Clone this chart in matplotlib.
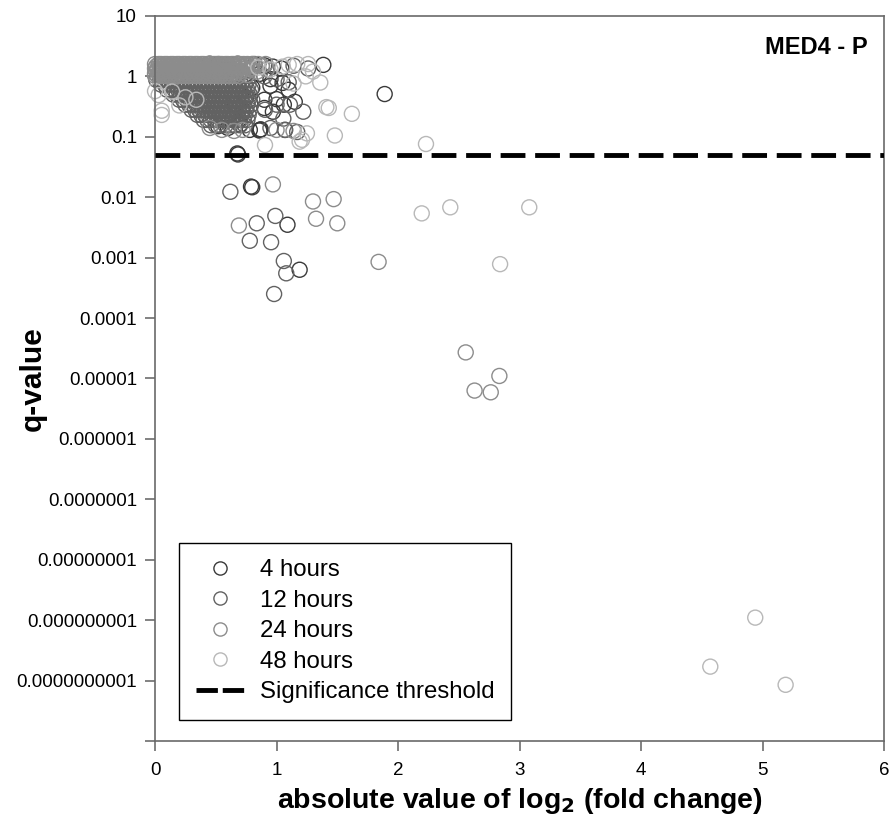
import matplotlib
matplotlib.use('Agg')
import matplotlib.pyplot as plt
from matplotlib.lines import Line2D
from matplotlib.ticker import FixedLocator, FixedFormatter, NullLocator
from matplotlib import font_manager

# ---------------- data (|log2 fold change|, q-value) ----------------
series_names = ["4 hours", "12 hours", "24 hours", "48 hours"]
threshold_label = "Significance threshold"
threshold_q = 0.05
panel_title = "MED4 - P"

# dense clusters: genes sharing (tied) q-values -> (q, [|log2 FC| values])
rows_12h = [
    (0.88, [0.01, 0.04, 0.07, 0.10, 0.13, 0.16, 0.19, 0.22, 0.25, 0.28, 0.31, 0.34, 0.37, 0.40, 0.43,
            0.46, 0.49, 0.52, 0.55, 0.58, 0.61, 0.64, 0.67, 0.70, 0.73, 0.76]),
    (0.73, [0.05, 0.08, 0.11, 0.14, 0.17, 0.20, 0.23, 0.26, 0.29, 0.32, 0.35, 0.38, 0.41, 0.44, 0.47,
            0.50, 0.53, 0.56, 0.59, 0.62, 0.65, 0.68, 0.71, 0.74, 0.77]),
    (0.60, [0.10, 0.13, 0.16, 0.19, 0.22, 0.25, 0.28, 0.31, 0.34, 0.37, 0.40, 0.43, 0.46, 0.49, 0.52,
            0.55, 0.58, 0.61, 0.64, 0.67, 0.70, 0.73, 0.76, 0.79]),
    (0.50, [0.15, 0.18, 0.21, 0.24, 0.27, 0.30, 0.33, 0.36, 0.39, 0.42, 0.45, 0.48, 0.51, 0.54, 0.57,
            0.60, 0.63, 0.66, 0.69, 0.72, 0.75, 0.78]),
    (0.41, [0.20, 0.23, 0.26, 0.29, 0.32, 0.35, 0.38, 0.41, 0.44, 0.47, 0.50, 0.53, 0.56, 0.59, 0.62,
            0.65, 0.68, 0.71, 0.74, 0.77, 0.80]),
    (0.34, [0.25, 0.28, 0.31, 0.34, 0.37, 0.40, 0.43, 0.46, 0.49, 0.52, 0.55, 0.58, 0.61, 0.64, 0.67,
            0.70, 0.73, 0.76, 0.79]),
    (0.28, [0.30, 0.33, 0.36, 0.39, 0.42, 0.45, 0.48, 0.51, 0.54, 0.57, 0.60, 0.63, 0.66, 0.69, 0.72,
            0.75, 0.78]),
    (0.23, [0.35, 0.38, 0.41, 0.44, 0.47, 0.50, 0.53, 0.56, 0.59, 0.62, 0.65, 0.68, 0.71, 0.74, 0.77]),
    (0.19, [0.40, 0.43, 0.46, 0.49, 0.52, 0.55, 0.58, 0.61, 0.64, 0.67, 0.70, 0.73, 0.76]),
    (0.155, [0.46, 0.50, 0.54, 0.58, 0.62, 0.66, 0.70, 0.74]),
]

rows_24h = [
    (1.60, [0.00, 0.03, 0.05, 0.08, 0.10, 0.13, 0.15, 0.18, 0.20, 0.23, 0.25, 0.28, 0.30, 0.33, 0.35,
            0.38, 0.40, 0.43, 0.45, 0.48, 0.50, 0.53, 0.55, 0.58, 0.60, 0.63, 0.65, 0.68, 0.70, 0.73,
            0.76, 0.80, 0.85, 0.91]),
    (1.47, [0.01, 0.04, 0.06, 0.09, 0.11, 0.14, 0.16, 0.19, 0.21, 0.24, 0.26, 0.29, 0.31, 0.34, 0.36,
            0.39, 0.41, 0.44, 0.46, 0.49, 0.51, 0.54, 0.56, 0.59, 0.61, 0.64, 0.66, 0.69, 0.72, 0.75,
            0.82, 0.88]),
    (1.35, [0.00, 0.02, 0.05, 0.07, 0.10, 0.12, 0.15, 0.17, 0.20, 0.22, 0.25, 0.27, 0.30, 0.32, 0.35,
            0.37, 0.40, 0.42, 0.45, 0.47, 0.50, 0.52, 0.55, 0.57, 0.60, 0.62, 0.65, 0.67, 0.70, 0.74,
            0.79]),
    (1.23, [0.01, 0.04, 0.06, 0.09, 0.11, 0.14, 0.16, 0.19, 0.21, 0.24, 0.26, 0.29, 0.31, 0.34, 0.36,
            0.39, 0.41, 0.44, 0.46, 0.49, 0.51, 0.54, 0.56, 0.59, 0.61, 0.64, 0.67, 0.71, 0.76]),
    (1.12, [0.00, 0.03, 0.05, 0.08, 0.10, 0.13, 0.15, 0.18, 0.20, 0.23, 0.25, 0.28, 0.30, 0.33, 0.35,
            0.38, 0.40, 0.43, 0.45, 0.48, 0.50, 0.53, 0.55, 0.58, 0.60, 0.63, 0.66, 0.70]),
    (1.02, [0.00, 0.02, 0.04, 0.07, 0.09, 0.12, 0.14, 0.17, 0.19, 0.22, 0.24, 0.27, 0.29, 0.32, 0.34,
            0.37, 0.39, 0.42, 0.44, 0.47, 0.49, 0.52, 0.54, 0.57, 0.59, 0.62, 0.65, 0.69]),
]

# individually readable points: (|log2 FC|, q)
pts_4h = [
    (0.45, 1.62), (0.52, 1.60), (0.60, 1.58), (0.68, 1.62), (0.75, 1.55), (0.82, 1.60),
    (0.90, 1.52), (0.97, 1.45), (1.04, 1.35), (0.58, 1.30), (0.70, 1.20), (0.86, 1.10),
    (0.95, 0.90), (1.10, 0.60),
    (1.385, 1.55), (1.15, 0.38), (1.06, 0.34), (1.00, 0.42), (0.90, 0.41), (0.90, 0.30),
    (0.97, 0.26), (1.89, 0.51), (0.864, 0.130), (0.870, 0.133), (0.858, 0.127), (0.78, 0.130),
    (1.07, 0.130), (0.60, 0.14), (0.52, 0.15), (0.70, 0.16), (0.95, 0.70), (1.05, 0.78),
    (0.80, 0.65), (0.75, 0.45), (0.66, 0.35), (0.72, 0.25), (0.64, 0.20),
    (0.677, 0.053), (0.683, 0.051), (0.79, 0.0150), (0.80, 0.0146), (1.09, 0.0035), (1.19, 0.00063),
]

pts_12h = [
    (1.00, 0.34), (1.11, 0.34), (0.905, 0.28), (1.056, 0.20), (1.22, 0.26), (1.17, 0.12),
    (1.07, 0.13), (0.95, 0.14), (1.14, 1.50), (1.26, 1.35), (1.00, 0.90), (1.10, 0.80), (0.90, 1.00),
    (0.62, 0.0123), (0.837, 0.0037), (0.99, 0.0049), (0.78, 0.0019), (0.955, 0.0018),
    (1.06, 0.00088), (1.08, 0.00055), (0.98, 0.00025),
]

pts_24h = [
    (0.75, 1.55), (0.78, 1.35), (0.80, 1.60), (0.84, 1.20), (0.88, 1.50), (0.76, 1.05), (0.92, 1.30),
    (0.45, 0.14), (0.55, 0.13), (0.65, 0.125), (0.72, 0.13), (1.00, 0.13), (1.14, 0.125),
    (0.97, 0.0163), (1.30, 0.0085), (1.47, 0.0093), (0.69, 0.0034), (1.325, 0.0044), (1.50, 0.0037),
    (1.84, 0.00085), (2.557, 2.7e-5), (2.834, 1.1e-5), (2.63, 6.3e-6), (2.763, 5.9e-6),
]

pts_48h = [
    (0.00, 0.57), (0.03, 0.49), (0.055, 0.27), (0.055, 0.23), (0.14, 0.56), (0.34, 0.41),
    (0.25, 0.45), (0.20, 0.33),
    (1.26, 1.60), (1.17, 1.60), (1.10, 1.55), (1.36, 0.79), (1.24, 1.00), (1.14, 0.76),
    (1.43, 0.30), (1.62, 0.24), (1.48, 0.105), (2.23, 0.076), (1.41, 0.31), (1.25, 0.114),
    (1.21, 0.089), (1.19, 0.083), (0.905, 0.073), (0.95, 1.30), (1.05, 1.45), (1.30, 1.20),
    (0.85, 1.40),
    (2.195, 0.0054), (2.43, 0.0068), (3.08, 0.0068), (2.84, 0.00078),
    (4.94, 1.1e-9), (4.57, 1.7e-10), (5.19, 8.5e-11),
]

series_points = [pts_4h, pts_12h, pts_24h, pts_48h]
series_rows = [[], rows_12h, rows_24h, []]
series_colors = ["#3a3a3a", "#626262", "#8c8c8c", "#b8b8b8"]

x_ticks = [0, 1, 2, 3, 4, 5, 6]
x_tick_labels = ["0", "1", "2", "3", "4", "5", "6"]
y_ticks = [10, 1, 0.1, 0.01, 0.001, 1e-4, 1e-5, 1e-6, 1e-7, 1e-8, 1e-9, 1e-10, 1e-11]
y_tick_labels = ["10", "1", "0.1", "0.01", "0.001", "0.0001", "0.00001", "0.000001",
                 "0.0000001", "0.00000001", "0.000000001", "0.0000000001", ""]

# ---------------- fonts ----------------
names = {f.name for f in font_manager.fontManager.ttflist}
base_font = "Liberation Sans" if "Liberation Sans" in names else "DejaVu Sans"
plt.rcParams['font.family'] = [base_font, 'DejaVu Sans']

# ---------------- figure ----------------
fig = plt.figure(figsize=(8.9, 8.4), dpi=100)
ax = fig.add_axes([0.1742, 0.1179, 0.8191, 0.8631])
ax.set_yscale('log')
ax.set_xlim(0, 6)
ax.set_ylim(1e-11, 10)

for pts, rows, col in zip(series_points, series_rows, series_colors):
    xs, qs = [], []
    for q, xr in rows:
        xs.extend(xr)
        qs.extend([q] * len(xr))
    xs.extend(p[0] for p in pts)
    qs.extend(p[1] for p in pts)
    ax.scatter(xs, qs, s=117, facecolors='none', edgecolors=col, linewidths=1.0,
               clip_on=False, zorder=2)

ax.axhline(threshold_q, color='black', lw=3.5, linestyle=(0, (5.1, 2.0)), zorder=3)

ax.xaxis.set_major_locator(FixedLocator(x_ticks))
ax.xaxis.set_major_formatter(FixedFormatter(x_tick_labels))
ax.yaxis.set_major_locator(FixedLocator(y_ticks))
ax.yaxis.set_major_formatter(FixedFormatter(y_tick_labels))
ax.yaxis.set_minor_locator(NullLocator())
ax.xaxis.set_minor_locator(NullLocator())
ax.tick_params(direction='out', length=7, width=1.1, color='#606060',
               labelsize=13.5, labelcolor='black', pad=6)
ax.tick_params(axis='x', pad=8)
for sp in ax.spines.values():
    sp.set_color('#6a6a6a')
    sp.set_linewidth(1.2)

ax.set_xlabel("absolute value of log$_\\mathbf{2}$ (fold change)",
              fontsize=20.5, fontweight='bold', labelpad=5)
ax.set_ylabel("q-value", fontsize=21.5, fontweight='bold')
ax.yaxis.set_label_coords(-0.148, 0.5)

ax.text(0.978, 0.956, panel_title, transform=ax.transAxes, ha='right', va='center',
        fontsize=17, fontweight='bold')

handles = [Line2D([], [], linestyle='none', marker='o', markersize=9.5, markerfacecolor='none',
                  markeredgecolor=c, markeredgewidth=1.0) for c in series_colors]
handles.append(Line2D([], [], color='black', lw=3.5, linestyle=(0, (4.4, 1.0))))
labels = series_names + [threshold_label]
leg = ax.legend(handles, labels, loc='lower left', bbox_to_anchor=(0.033, 0.029),
                borderaxespad=0, fontsize=17.3, frameon=True, fancybox=False,
                edgecolor='black', framealpha=1, handlelength=2.0, handletextpad=0.65,
                labelspacing=0.35, borderpad=0.7)
leg.get_frame().set_linewidth(1.0)

fig.savefig('out.png', dpi=100)
